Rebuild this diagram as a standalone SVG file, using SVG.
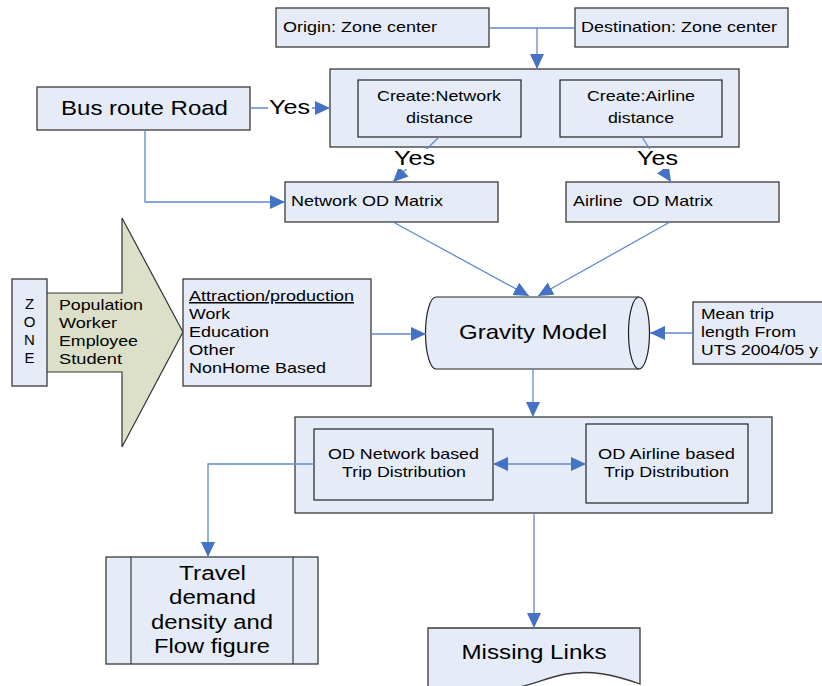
<svg xmlns="http://www.w3.org/2000/svg" width="822" height="686" viewBox="0 0 822 686">
<defs>
<style>
.box{fill:#e6ecf7;stroke:#3a3a3a;stroke-width:1.3}
.in{fill:#e6ecf7;stroke:#222;stroke-width:1.2}
.t{font-family:"Liberation Sans",Arial,sans-serif;fill:#000}
.s15{font-size:15px}
.s20{font-size:20px}
.s21{font-size:21px}
.c{text-anchor:middle}
.ln{fill:none;stroke:#5f8ad0;stroke-width:1.3}
</style>
<marker id="ah" markerUnits="userSpaceOnUse" markerWidth="15" markerHeight="14" viewBox="0 0 15 14" refX="15" refY="7" orient="auto-start-reverse">
<path d="M0,0 L15,7 L0,14 z" fill="#4472c4"/>
</marker>
</defs>
<rect width="822" height="686" fill="#fff"/>

<g id="origin">
<rect class="box" x="276" y="8" width="213" height="39"/>
<text class="t s15" x="283" y="32" textLength="154" lengthAdjust="spacingAndGlyphs">Origin: Zone center</text>
</g>
<g id="destination">
<rect class="box" x="575" y="8" width="213" height="39"/>
<text class="t s15" x="581" y="32" textLength="196" lengthAdjust="spacingAndGlyphs">Destination: Zone center</text>
</g>

<g id="create">
<rect class="box" x="330" y="69" width="409" height="78"/>
<g id="create-network">
<rect class="in" x="358" y="80" width="163" height="57"/>
<text class="t s15 c" x="439" y="101" textLength="124" lengthAdjust="spacingAndGlyphs">Create:Network</text>
<text class="t s15 c" x="439.5" y="123" textLength="67" lengthAdjust="spacingAndGlyphs">distance</text>
</g>
<g id="create-airline">
<rect class="in" x="560" y="80" width="162" height="57"/>
<text class="t s15 c" x="641" y="101" textLength="108" lengthAdjust="spacingAndGlyphs">Create:Airline</text>
<text class="t s15 c" x="641" y="123" textLength="66" lengthAdjust="spacingAndGlyphs">distance</text>
</g>
</g>

<g id="bus-route">
<rect class="box" x="37" y="87" width="213" height="43"/>
<text class="t s21" x="61" y="115" textLength="167" lengthAdjust="spacingAndGlyphs">Bus route Road</text>
</g>

<g id="network-od">
<rect class="box" x="285" y="182" width="213" height="40"/>
<text class="t s15" x="291" y="206" textLength="152" lengthAdjust="spacingAndGlyphs">Network OD Matrix</text>
</g>
<g id="airline-od">
<rect class="box" x="566" y="182" width="213" height="40"/>
<text class="t s15" x="573" y="206" textLength="140" lengthAdjust="spacingAndGlyphs" xml:space="preserve">Airline  OD Matrix</text>
</g>

<g id="zone">
<polygon points="40,293 122,293 122,218 183,332 122,447 122,372 40,372" fill="#dde0c9" stroke="#333" stroke-width="1.2"/>
<rect class="box" x="12" y="279" width="35" height="107"/>
<text class="t s15 c" x="29.5" y="309">Z</text>
<text class="t s15 c" x="29.5" y="327">O</text>
<text class="t s15 c" x="29.5" y="345">N</text>
<text class="t s15 c" x="29.5" y="363">E</text>
<text class="t s15" x="59" y="310" textLength="84" lengthAdjust="spacingAndGlyphs">Population</text>
<text class="t s15" x="59" y="328" textLength="58" lengthAdjust="spacingAndGlyphs">Worker</text>
<text class="t s15" x="59" y="346" textLength="79" lengthAdjust="spacingAndGlyphs">Employee</text>
<text class="t s15" x="59" y="364" textLength="63" lengthAdjust="spacingAndGlyphs">Student</text>
</g>

<g id="attraction">
<rect class="box" x="183" y="279" width="188" height="107"/>
<text class="t s15" x="189" y="301" textLength="165" lengthAdjust="spacingAndGlyphs" text-decoration="underline">Attraction/production</text>
<text class="t s15" x="189" y="319" textLength="41" lengthAdjust="spacingAndGlyphs">Work</text>
<text class="t s15" x="189" y="337" textLength="80" lengthAdjust="spacingAndGlyphs">Education</text>
<text class="t s15" x="189" y="355" textLength="46" lengthAdjust="spacingAndGlyphs">Other</text>
<text class="t s15" x="189" y="373" textLength="137" lengthAdjust="spacingAndGlyphs">NonHome Based</text>
</g>

<g id="gravity">
<path d="M436,297 H639 A10.5,36 0 0 1 639,369 H436 A10.5,36 0 0 1 436,297 Z" fill="#e6ecf7" stroke="#222" stroke-width="1.2"/>
<path d="M639,369 A10.5,36 0 0 1 639,297" fill="none" stroke="#222" stroke-width="1.2"/>
<text class="t s21 c" x="533" y="339" textLength="148" lengthAdjust="spacingAndGlyphs">Gravity Model</text>
</g>

<g id="mean-trip">
<rect class="box" x="693" y="302" width="140" height="62"/>
<text class="t s15" x="701" y="319" textLength="73" lengthAdjust="spacingAndGlyphs">Mean trip</text>
<text class="t s15" x="701" y="337" textLength="95" lengthAdjust="spacingAndGlyphs">length From</text>
<text class="t s15" x="701" y="355" textLength="117" lengthAdjust="spacingAndGlyphs">UTS 2004/05 y</text>
</g>

<g id="distribution">
<rect class="box" x="295" y="417" width="477" height="96"/>
<g id="od-network">
<rect class="in" x="314" y="429" width="179" height="71"/>
<text class="t s15 c" x="403.5" y="459" textLength="151" lengthAdjust="spacingAndGlyphs">OD Network based</text>
<text class="t s15 c" x="404" y="477" textLength="124" lengthAdjust="spacingAndGlyphs">Trip Distribution</text>
</g>
<g id="od-airline">
<rect class="in" x="586" y="424" width="162" height="79"/>
<text class="t s15 c" x="666.5" y="459" textLength="137" lengthAdjust="spacingAndGlyphs">OD Airline based</text>
<text class="t s15 c" x="666.5" y="477" textLength="125" lengthAdjust="spacingAndGlyphs">Trip Distribution</text>
</g>
</g>

<g id="travel">
<rect class="box" x="106" y="557" width="212" height="107"/>
<line x1="131" y1="557" x2="131" y2="664" stroke="#3a3a3a" stroke-width="1.2"/>
<line x1="293" y1="557" x2="293" y2="664" stroke="#3a3a3a" stroke-width="1.2"/>
<text class="t s20 c" x="212.5" y="580" textLength="67" lengthAdjust="spacingAndGlyphs">Travel</text>
<text class="t s20 c" x="212.5" y="604" textLength="87" lengthAdjust="spacingAndGlyphs">demand</text>
<text class="t s20 c" x="212" y="629" textLength="122" lengthAdjust="spacingAndGlyphs">density and</text>
<text class="t s20 c" x="212" y="653" textLength="116" lengthAdjust="spacingAndGlyphs">Flow figure</text>
</g>

<g id="missing">
<path d="M428,628 H640 V684 C612,674 590,670 566,674 C548,677 530,686 510,689 C480,694 452,692 428,687 Z" fill="#e6ecf7" stroke="#3a3a3a" stroke-width="1.3"/>
<text class="t s20 c" x="534" y="659" textLength="145" lengthAdjust="spacingAndGlyphs">Missing Links</text>
</g>

<g id="connectors">
<path class="ln" d="M489,28 H575"/>
<path class="ln" d="M537,28 V69" marker-end="url(#ah)"/>
<path class="ln" d="M250,108 H330" marker-end="url(#ah)"/>
<path class="ln" d="M145,130 V202 H285" marker-end="url(#ah)"/>
<path class="ln" d="M439,137 L393,182" marker-end="url(#ah)"/>
<path class="ln" d="M642,137 L671,182" marker-end="url(#ah)"/>
<path class="ln" d="M393,222 L529,296" marker-end="url(#ah)"/>
<path class="ln" d="M670,222 L538,296" marker-end="url(#ah)"/>
<path class="ln" d="M371,334 H426" marker-end="url(#ah)"/>
<path class="ln" d="M693,333 H650" marker-end="url(#ah)"/>
<path class="ln" d="M533,369 V417" marker-end="url(#ah)"/>
<path class="ln" d="M493,464 H586" marker-start="url(#ah)" marker-end="url(#ah)"/>
<path class="ln" d="M314,464 H208 V557" marker-end="url(#ah)"/>
<path class="ln" d="M534,513 V628" marker-end="url(#ah)"/>
<rect x="268" y="96" width="44" height="22" fill="#fff"/>
<text class="t s20" x="269" y="114" textLength="41" lengthAdjust="spacingAndGlyphs">Yes</text>
<rect x="393" y="149" width="44" height="20" fill="#fff"/>
<text class="t s20" x="394" y="165" textLength="41" lengthAdjust="spacingAndGlyphs">Yes</text>
<rect x="636" y="149" width="44" height="20" fill="#fff"/>
<text class="t s20" x="637" y="165" textLength="41" lengthAdjust="spacingAndGlyphs">Yes</text>
</g>
</svg>
